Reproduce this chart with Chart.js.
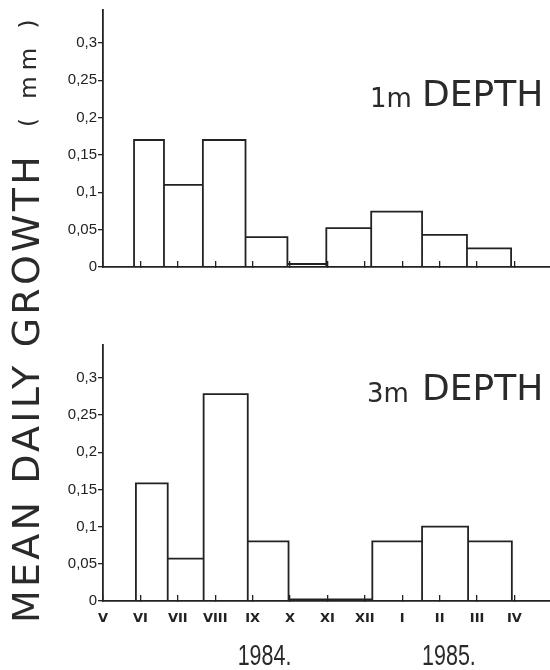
<!DOCTYPE html>
<html>
<head>
<meta charset="utf-8">
<script src="https://cdn.jsdelivr.net/npm/chart.js@4/dist/chart.umd.min.js"></script>
<style>
  html, body { margin: 0; padding: 0; background: #fff; }
  #wrap { position: relative; width: 550px; height: 670px; overflow: hidden; }
  #wrap div { position: absolute; left: 0; }
</style>
</head>
<body>
<div id="wrap">
  <div style="top:0; width:550px; height:670px;"><canvas id="lowerChart"></canvas></div>
  <div style="top:0; width:550px; height:285px;"><canvas id="upperChart"></canvas></div>
</div>
<script>
// month axis: 0 = V (May 1984) ... 11 = IV (April 1985)
const months = ["V", "VI", "VII", "VIII", "IX", "X", "XI", "XII", "I", "II", "III", "IV"];
const yTicks = [0, 0.05, 0.1, 0.15, 0.2, 0.25, 0.3];
const yMax = 0.344;
const xMax = 11.95;

// sampling interval edges (in months from V) and mean daily growth (mm)
const edges1m = [0.83, 1.63, 2.67, 3.81, 4.93, 5.97, 7.17, 8.53, 9.73, 10.91];
const growth1m = [0.17, 0.11, 0.17, 0.04, 0.004, 0.052, 0.074, 0.043, 0.025];

const edges3m = [0.88, 1.73, 2.69, 3.87, 4.96, 7.2, 8.53, 9.76, 10.93];
const growth3m = [0.158, 0.057, 0.278, 0.08, 0.002, 0.08, 0.1, 0.08];

const years = [{ text: "1984.", at: 3.6 }, { text: "1985.", at: 8.53 }];

const INK = "#222";

// histogram outline: every bin closes down to the baseline
function histogram(edges, values) {
  const pts = [];
  values.forEach((v, i) => {
    pts.push({ x: edges[i], y: 0 });
    pts.push({ x: edges[i], y: v });
    pts.push({ x: edges[i + 1], y: v });
    pts.push({ x: edges[i + 1], y: 0 });
  });
  return pts;
}

function fmt(v) {
  if (v === 0) return "0";
  return String(+v.toFixed(2)).replace(".", ",");
}

function makeOptions(showMonths, axisHeight, padTop) {
  return {
    responsive: true,
    maintainAspectRatio: false,
    animation: false,
    layout: { padding: { top: padTop, left: 0, right: 0, bottom: 0 } },
    plugins: { legend: { display: false }, tooltip: { enabled: false } },
    scales: {
      x: {
        type: "linear",
        min: 0,
        max: xMax,
        afterBuildTicks: s => { s.ticks = months.map((m, i) => ({ value: i })); },
        afterFit: s => { s.height = axisHeight; },
        border: { display: true, color: INK, width: 1.8 },
        grid: { display: true, drawOnChartArea: false, drawTicks: true, tickLength: -6, color: INK, lineWidth: 1.3 },
        ticks: {
          display: showMonths,
          padding: 16,
          color: INK,
          font: { family: "'DejaVu Sans'", size: 13, weight: "bold" },
          callback: v => months[v] ?? ""
        }
      },
      y: {
        min: 0,
        max: yMax,
        afterBuildTicks: s => { s.ticks = yTicks.map(v => ({ value: v })); },
        afterFit: s => { s.width = 103; },
        border: { display: true, color: INK, width: 1.8 },
        grid: { display: true, drawOnChartArea: false, drawTicks: true, tickLength: 5, color: INK, lineWidth: 1.3 },
        ticks: {
          padding: 1,
          color: INK,
          font: { family: "'Liberation Sans'", size: 15 },
          callback: v => fmt(v)
        }
      }
    }
  };
}

function dataset(edges, values) {
  return {
    data: histogram(edges, values),
    borderColor: INK,
    borderWidth: 1.8,
    pointRadius: 0,
    fill: false,
    tension: 0
  };
}

// labels drawn on the full-size lower canvas
const labelPlugin = {
  id: "labels",
  afterDraw(chart) {
    const ctx = chart.ctx;
    const xs = chart.scales.x;
    ctx.save();
    ctx.fillStyle = "#2a2a2a";
    ctx.textBaseline = "alphabetic";
    ctx.textAlign = "left";

    ctx.font = "26px 'DejaVu Sans'";
    ctx.fillText("1m", 370, 107);
    ctx.font = "36px 'DejaVu Sans'";
    ctx.fillText("DEPTH", 422, 106);

    ctx.font = "26px 'DejaVu Sans'";
    ctx.fillText("3m", 367, 402);
    ctx.font = "36px 'DejaVu Sans'";
    ctx.fillText("DEPTH", 422, 400);

    // years, narrowed like the original lettering
    ctx.font = "29px 'Liberation Sans'";
    years.forEach(y => {
      ctx.save();
      ctx.translate(xs.getPixelForValue(y.at), 665);
      ctx.scale(0.74, 1);
      ctx.fillText(y.text, 0, 0);
      ctx.restore();
    });

    // vertical axis title
    ctx.translate(39, 623);
    ctx.rotate(-Math.PI / 2);
    ctx.font = "38px 'DejaVu Sans'";
    ctx.letterSpacing = "3.2px";
    ctx.fillText("MEAN DAILY GROWTH", 0, 0);
    ctx.font = "23px 'DejaVu Sans'";
    ctx.letterSpacing = "6px";
    ctx.fillText("( mm )", 496, -3);
    ctx.restore();
  }
};

new Chart(document.getElementById("upperChart"), {
  type: "line",
  data: { datasets: [dataset(edges1m, growth1m)] },
  options: makeOptions(false, 18, 10)
});

new Chart(document.getElementById("lowerChart"), {
  type: "line",
  data: { datasets: [dataset(edges3m, growth3m)] },
  options: makeOptions(true, 69, 345),
  plugins: [labelPlugin]
});
</script>
</body>
</html>
